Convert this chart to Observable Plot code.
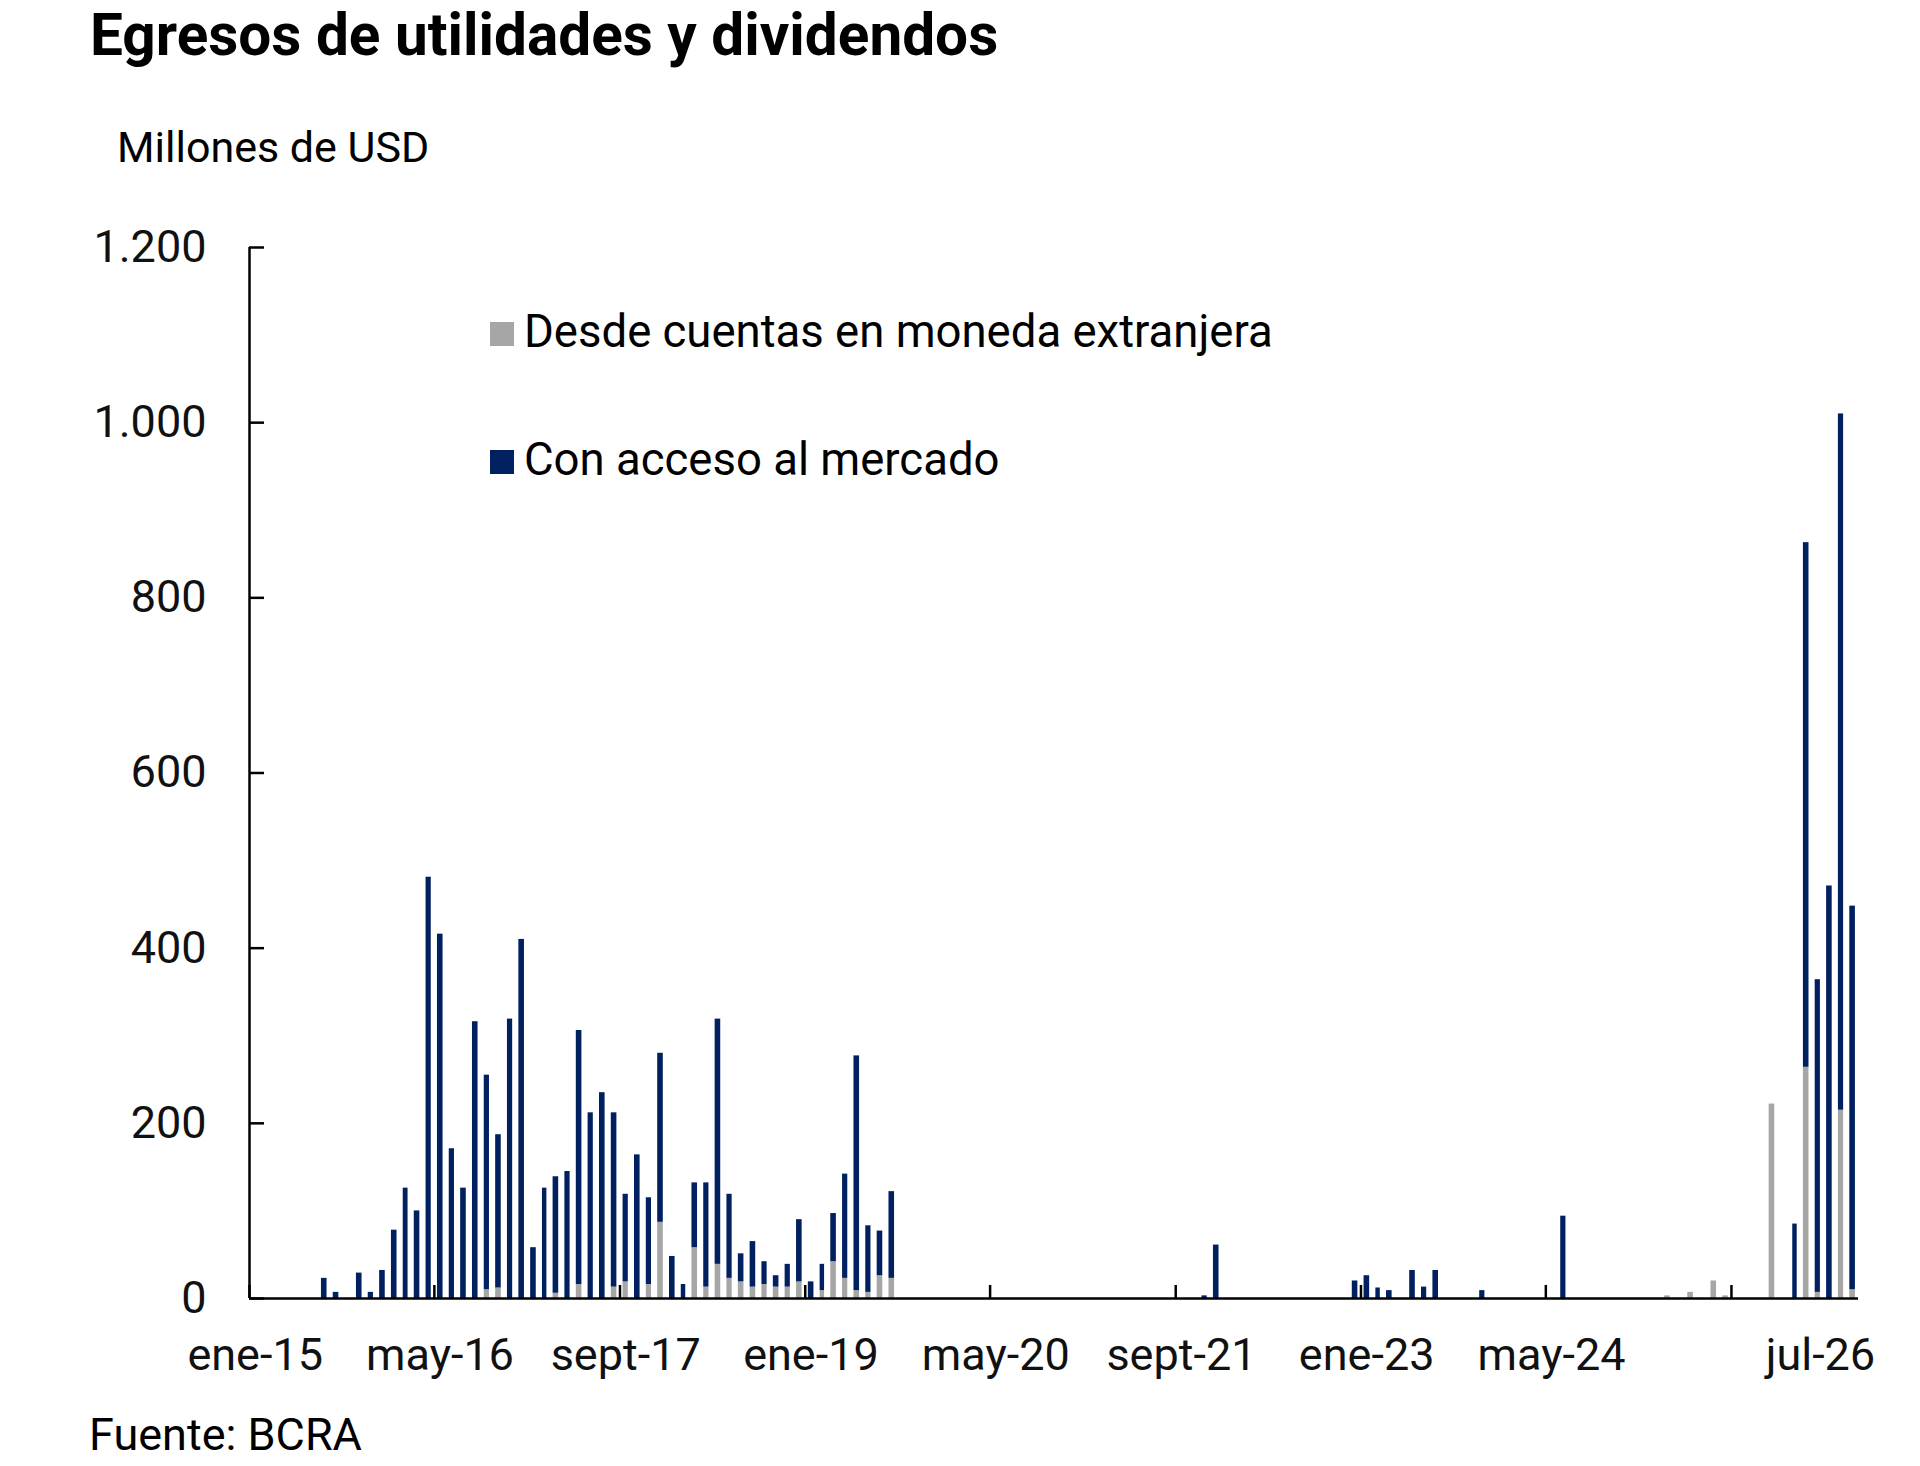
<!DOCTYPE html>
<html>
<head>
<meta charset="utf-8">
<script src="https://cdn.jsdelivr.net/npm/d3@7"></script>
<script src="https://cdn.jsdelivr.net/npm/@observablehq/plot@0.6"></script>
<style>
  body { margin: 0; background: #fff; }
  #wrap { position: relative; width: 1920px; height: 1466px; font-family: Roboto, "Noto Sans", sans-serif; color: #000; overflow: hidden; }
  .t { position: absolute; white-space: nowrap; line-height: 1; }
  #chart { position: absolute; left: 0; top: 0; }
  .sw { position: absolute; width: 24px; height: 24px; }
</style>
</head>
<body>
<div id="wrap">
  <div id="chart"></div>
  <div class="t" style="left:90px;top:6px;font-size:58.5px;font-weight:700;">Egresos de utilidades y dividendos</div>
  <div class="t" style="left:117px;top:126px;font-size:43px;">Millones de USD</div>
  <div id="legend"></div>
  <div class="t" style="left:89px;top:1412px;font-size:45px;">Fuente: BCRA</div>
</div>
<script>
// ---- data (millones de USD, mensual) ----
const series = ["Desde cuentas en moneda extranjera", "Con acceso al mercado"];
const colors = ["#a6a6a6", "#002060"];

const months = [
  "2015-07","2015-08","2015-10","2015-11","2015-12",
  "2016-01","2016-02","2016-03","2016-04","2016-05","2016-06","2016-07","2016-08","2016-09","2016-10","2016-11","2016-12",
  "2017-01","2017-02","2017-03","2017-04","2017-05","2017-06","2017-07","2017-08","2017-09","2017-10","2017-11","2017-12",
  "2018-01","2018-02","2018-03","2018-04","2018-05","2018-06","2018-07","2018-08","2018-09","2018-10","2018-11","2018-12",
  "2019-01","2019-02","2019-03","2019-04","2019-05","2019-06","2019-07","2019-08",
  "2021-11","2021-12",
  "2022-12","2023-01","2023-02","2023-03","2023-05","2023-06","2023-07","2023-11",
  "2024-06",
  "2025-03","2025-05","2025-07","2025-08","2025-12",
  "2026-02","2026-03","2026-04","2026-05","2026-06","2026-07"
];
const cuentas = [
  0,0,0,0,0,
  0,0,0,0,0,0,0,0,10,12,0,0,
  0,0,6,0,16,0,0,13,19,0,16,87,
  0,0,58,13,39,23,19,13,16,13,13,19,
  0,9,42,23,9,7,26,23,
  0,0,
  0,0,0,0,0,0,0,0,
  0,
  3,7,20,3,222,
  0,264,7,0,215,10
];
const mercado = [
  23,7,29,7,32,
  78,126,100,481,416,171,126,316,245,175,319,410,
  58,126,133,145,290,212,235,199,100,164,99,193,
  48,16,74,119,280,96,32,52,26,13,26,71,
  19,30,55,119,268,76,51,99,
  3,61,
  20,26,12,9,32,13,32,9,
  94,
  0,0,0,0,0,
  85,599,357,471,795,438
];

// axis ticks and labels
const yTicks = [0, 200, 400, 600, 800, 1000, 1200];
const tickMonths = ["2015-01","2016-05","2017-09","2019-01","2020-05","2021-09","2023-01","2024-05","2025-09"];
const labelMonths = ["2015-01","2016-05","2017-09","2019-01","2020-05","2021-09","2023-01","2024-05"];
const labelTexts = ["ene-15","may-16","sept-17","ene-19","may-20","sept-21","ene-23","may-24"];
const lastMonth = "2026-07";
const lastLabel = "jul-26";
const firstMonth = "2015-01";

// ---- helpers ----
const monthStart = s => { const [y, m] = s.split("-").map(Number); return new Date(Date.UTC(y, m - 1, 1)); };
const monthMid = s => { const [y, m] = s.split("-").map(Number); return new Date(Date.UTC(y, m - 1, 16)); };
const fmt = d3.formatLocale({decimal: ",", thousands: ".", grouping: [3], currency: ["$", ""]}).format(",");

const data = [];
months.forEach((mo, i) => {
  const date = monthStart(mo);
  if (cuentas[i] > 0) data.push({date, serie: series[0], value: cuentas[i]});
  if (mercado[i] > 0) data.push({date, serie: series[1], value: mercado[i]});
});

const labelMap = new Map(labelMonths.map((m, i) => [+monthMid(m), labelTexts[i]]));
const xStart = monthStart(firstMonth);
const xEnd = d3.utcMonth.offset(monthStart(lastMonth), 1);

const chart = Plot.plot({
  width: 1920,
  height: 1466,
  marginTop: 247,
  marginBottom: 168,
  marginLeft: 249,
  marginRight: 62,
  style: {fontFamily: "Roboto, 'Noto Sans', sans-serif", background: "transparent", color: "#000", overflow: "visible"},
  x: {type: "utc", domain: [xStart, xEnd], label: null},
  y: {domain: [0, 1200], label: null},
  color: {domain: series, range: colors},
  marks: [
    Plot.rectY(data, {x: "date", y: "value", fill: "serie", interval: d3.utcMonth, order: series, insetLeft: 3.1, insetRight: 3.1}),
    Plot.ruleY([0], {stroke: "#000", strokeWidth: 2.5}),
    Plot.ruleX([xStart], {stroke: "#000", strokeWidth: 2.5}),
    Plot.axisY({ticks: yTicks, tickSize: -15, tickFormat: () => "", strokeWidth: 2.5, label: null}),
    Plot.axisY({ticks: yTicks, tickSize: 0, tickPadding: 43, tickFormat: fmt, fontSize: 45, fill: "#111", label: null}),
    Plot.axisX({ticks: tickMonths.map(monthStart), tickSize: -13, tickFormat: () => "", strokeWidth: 2.5, label: null}),
    Plot.axisX({ticks: labelMonths.map(monthMid), tickSize: 0, tickPadding: 40, tickFormat: d => labelMap.get(+d), fontSize: 45, fill: "#111", label: null}),
    Plot.axisX({ticks: [monthMid(lastMonth)], tickSize: 0, tickPadding: 40, tickFormat: () => lastLabel, fontSize: 45, fill: "#111", dx: -32, label: null})
  ]
});
document.getElementById("chart").appendChild(chart);

// legend (HTML)
const legend = document.getElementById("legend");
const legendRows = [{sq: 322, top: 309}, {sq: 450, top: 437}];
series.forEach((s, i) => {
  const sw = document.createElement("div");
  sw.className = "sw";
  sw.style.left = "490px";
  sw.style.top = legendRows[i].sq + "px";
  sw.style.background = colors[i];
  legend.appendChild(sw);
  const tx = document.createElement("div");
  tx.className = "t";
  tx.style.left = "524px";
  tx.style.top = legendRows[i].top + "px";
  tx.style.fontSize = "45.5px";
  tx.textContent = s;
  legend.appendChild(tx);
});
</script>
</body>
</html>
